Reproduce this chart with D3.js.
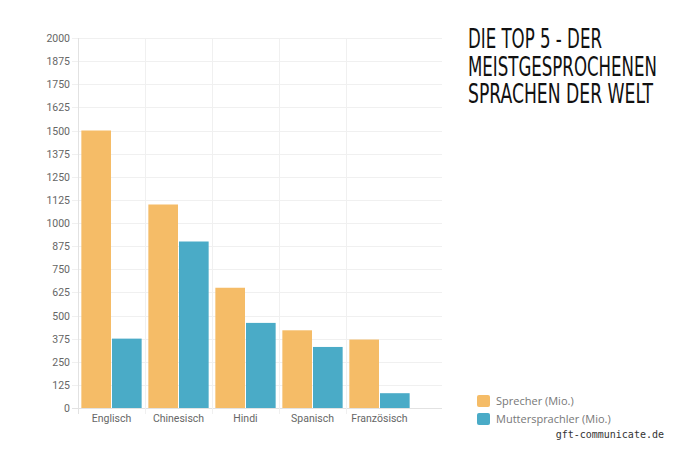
<!DOCTYPE html>
<html>
<head>
<meta charset="utf-8">
<script src="https://cdn.jsdelivr.net/npm/d3@7"></script>
<style>
  body { margin: 0; background: #fff; }
  svg { display: block; }
</style>
</head>
<body>
<div id="chart"></div>
<script>
// Top 5 languages - speakers vs native speakers (millions)
const languages = ['Englisch', 'Chinesisch', 'Hindi', 'Spanisch', 'Französisch'];
const sprecher = [1500, 1100, 650, 420, 370];
const muttersprachler = [375, 900, 460, 330, 80];
const yTicks = [0, 125, 250, 375, 500, 625, 750, 875, 1000, 1125, 1250, 1375, 1500, 1625, 1750, 1875, 2000];
const seriesNames = ['Sprecher (Mio.)', 'Muttersprachler (Mio.)'];
const titleLines = ['DIE TOP 5 - DER', 'MEISTGESPROCHENEN', 'SPRACHEN DER WELT'];

const width = 674, height = 450;
const colors = ['#f5bc67', '#4aabc7'];

const svg = d3.select('#chart').append('svg')
    .attr('width', width)
    .attr('height', height);

// plot area
const plotLeft = 78, plotRight = 442, plotTop = 38, plotBottom = 408;

const x = d3.scaleBand()
    .domain(languages)
    .range([plotLeft, plotLeft + 67 * languages.length]);

const y = d3.scaleLinear()
    .domain([0, 2000])
    .range([plotBottom, plotTop]);

// horizontal grid
svg.append('g')
    .selectAll('line')
    .data(yTicks)
    .enter()
    .append('line')
    .attr('x1', plotLeft - 6)
    .attr('x2', plotRight)
    .attr('y1', d => Math.round(y(d)) + 0.5)
    .attr('y2', d => Math.round(y(d)) + 0.5)
    .attr('stroke', d => d === 0 ? '#e2e2e2' : '#f0f0f0')
    .attr('stroke-width', 1);

// vertical grid at category boundaries
const bounds = languages.map(d => x(d));
svg.append('g')
    .selectAll('line')
    .data(bounds)
    .enter()
    .append('line')
    .attr('x1', d => Math.round(d) + 0.5)
    .attr('x2', d => Math.round(d) + 0.5)
    .attr('y1', plotTop)
    .attr('y2', plotBottom + 6)
    .attr('stroke', (d, i) => i === 0 ? '#e2e2e2' : '#f0f0f0');

// y labels
svg.append('g')
    .selectAll('text')
    .data(yTicks)
    .enter()
    .append('text')
    .attr('x', 70)
    .attr('y', d => y(d) + 4)
    .attr('text-anchor', 'end')
    .attr('fill', '#666')
    .attr('font-family', 'Roboto, "Liberation Sans", sans-serif')
    .attr('font-size', '10.5px')
    .text(d => d);

// x labels
svg.append('g')
    .selectAll('text')
    .data(languages)
    .enter()
    .append('text')
    .attr('x', d => x(d) + x.bandwidth() / 2)
    .attr('y', 422)
    .attr('text-anchor', 'middle')
    .attr('fill', '#666')
    .attr('font-family', 'Roboto, "Liberation Sans", sans-serif')
    .attr('font-size', '10.5px')
    .text(d => d);

// bars
const inner = d3.scaleBand()
    .domain([0, 1])
    .range([0, x.bandwidth() * 0.9]);
const offset = x.bandwidth() * 0.05;

[sprecher, muttersprachler].forEach((values, s) => {
    svg.append('g')
        .selectAll('rect')
        .data(values)
        .enter()
        .append('rect')
        .attr('x', (d, i) => x(languages[i]) + offset + inner(s) + (s === 1 ? 0.5 : 0))
        .attr('width', inner.bandwidth() - 0.5)
        .attr('y', d => y(d))
        .attr('height', d => plotBottom - y(d))
        .attr('fill', colors[s]);
});

// title - condensed look, each line squeezed to the width seen in the original
const titleWidths = [134, 189, 185];
titleLines.forEach((line, i) => {
    const g = svg.append('g');
    const t = g.append('text')
        .attr('fill', '#111')
        .attr('font-family', '"DejaVu Sans Condensed", "Liberation Sans Narrow", sans-serif')
        .attr('font-stretch', 'condensed')
        .attr('font-size', '26px')
        .text(line);
    const natural = t.node().getComputedTextLength();
    g.attr('transform', `translate(468, ${48 + i * 27.5}) scale(${titleWidths[i] / natural}, 1)`);
});

// legend
const legend = svg.append('g')
    .attr('transform', 'translate(477, 395)');

const items = legend.selectAll('g')
    .data(seriesNames)
    .enter()
    .append('g')
    .attr('transform', (d, i) => `translate(0, ${i * 18})`);

items.append('rect')
    .attr('width', 13)
    .attr('height', 12)
    .attr('rx', 2)
    .attr('fill', (d, i) => colors[i]);

items.append('text')
    .attr('x', 19)
    .attr('y', 10)
    .attr('fill', '#777')
    .attr('font-family', '"Open Sans", sans-serif')
    .attr('font-size', '11px')
    .text(d => d);

// watermark
svg.append('text')
    .attr('x', 664)
    .attr('y', 438)
    .attr('text-anchor', 'end')
    .attr('fill', '#333')
    .attr('font-family', '"DejaVu Sans Mono", monospace')
    .attr('font-size', '10px')
    .text('gft-communicate.de');
</script>
</body>
</html>
